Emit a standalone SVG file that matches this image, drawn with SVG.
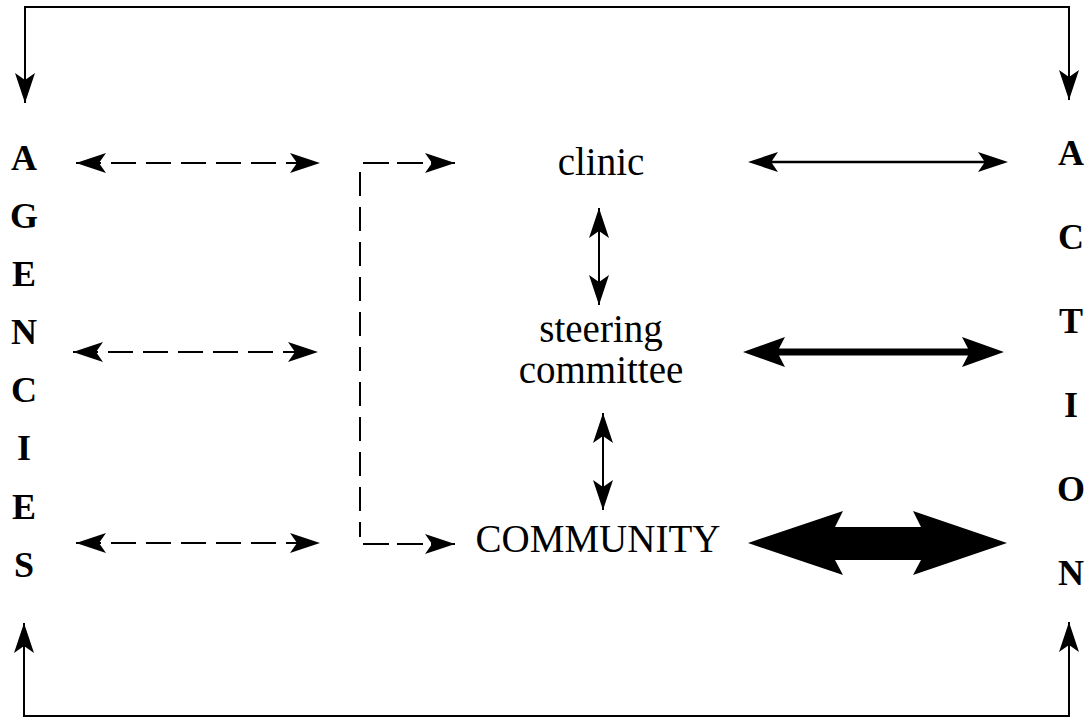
<svg xmlns="http://www.w3.org/2000/svg" width="1089" height="721" viewBox="0 0 1089 721">
<style>
.bg{fill:#fff}
.ln{fill:none;stroke:#000;stroke-width:2}
.dash{fill:none;stroke:#000;stroke-width:2;stroke-dasharray:25 10}
.fill{fill:#000;stroke:none}
.side{font-family:"Liberation Serif","Times New Roman",serif;font-weight:bold;font-size:36px;text-anchor:middle;fill:#000}
.lbl{font-family:"Liberation Serif","Times New Roman",serif;font-size:39px;text-anchor:middle;fill:#000}
</style>
<defs>
<marker id="ah" markerUnits="userSpaceOnUse" viewBox="0 0 30 20" refX="30" refY="10" markerWidth="30" markerHeight="20" orient="auto-start-reverse">
<path d="M0,0 L30,10 L0,20 L7,10 Z" fill="#000"/>
</marker>
</defs>
<rect class="bg" x="0" y="0" width="1089" height="721"/>
<g id="connectors">
<path class="ln" d="M25,103 V7 H1069 V100" marker-start="url(#ah)" marker-end="url(#ah)"/>
<path class="ln" d="M24,623 V716 H1069 V622" marker-start="url(#ah)" marker-end="url(#ah)"/>
<path class="dash" d="M76,163 H320" marker-start="url(#ah)" marker-end="url(#ah)"/>
<path class="dash" d="M73,352 H318" marker-start="url(#ah)" marker-end="url(#ah)"/>
<path class="dash" d="M76,543 H320" marker-start="url(#ah)" marker-end="url(#ah)"/>
<path class="ln" style="stroke-dasharray:26 8" d="M363,163 H455" marker-end="url(#ah)"/>
<path class="ln" style="stroke-dasharray:24 11" d="M360,172 V537"/>
<path class="ln" style="stroke-dasharray:26 8" d="M363,544 H455" marker-end="url(#ah)"/>
<path class="ln" d="M599,208 V305" marker-start="url(#ah)" marker-end="url(#ah)"/>
<path class="ln" d="M603,413 V510" marker-start="url(#ah)" marker-end="url(#ah)"/>
<path class="fill" d="M748,162 L778,152 L772,160.7 L984,160.7 L978,152 L1008,162 L978,172 L984,163.3 L772,163.3 L778,172 Z"/>
<path class="fill" d="M743,352 L785,337 L779,348.5 L968,348.5 L962,337 L1004,352 L962,367 L968,355.5 L779,355.5 L785,367 Z"/>
<path class="fill" d="M748,543 L843,511 L835,527 L921,527 L913,511 L1007,543 L913,575 L921,560 L835,560 L843,575 Z"/>
</g>
<g id="agencies">
<text class="side" x="24" y="170">A</text>
<text class="side" x="24" y="228">G</text>
<text class="side" x="24" y="286">E</text>
<text class="side" x="24" y="344">N</text>
<text class="side" x="24" y="402">C</text>
<text class="side" x="24" y="460">I</text>
<text class="side" x="24" y="519">E</text>
<text class="side" x="24" y="577">S</text>
</g>
<g id="action">
<text class="side" x="1071" y="165">A</text>
<text class="side" x="1071" y="249">C</text>
<text class="side" x="1071" y="333">T</text>
<text class="side" x="1071" y="417">I</text>
<text class="side" x="1071" y="501">O</text>
<text class="side" x="1071" y="585">N</text>
</g>
<g id="clinic">
<text class="lbl" x="601" y="175">clinic</text>
</g>
<g id="steering-committee">
<text class="lbl" x="601" y="342">steering</text>
<text class="lbl" x="601" y="383">committee</text>
</g>
<g id="community">
<text class="lbl" x="598" y="552">COMMUNITY</text>
</g>
</svg>
